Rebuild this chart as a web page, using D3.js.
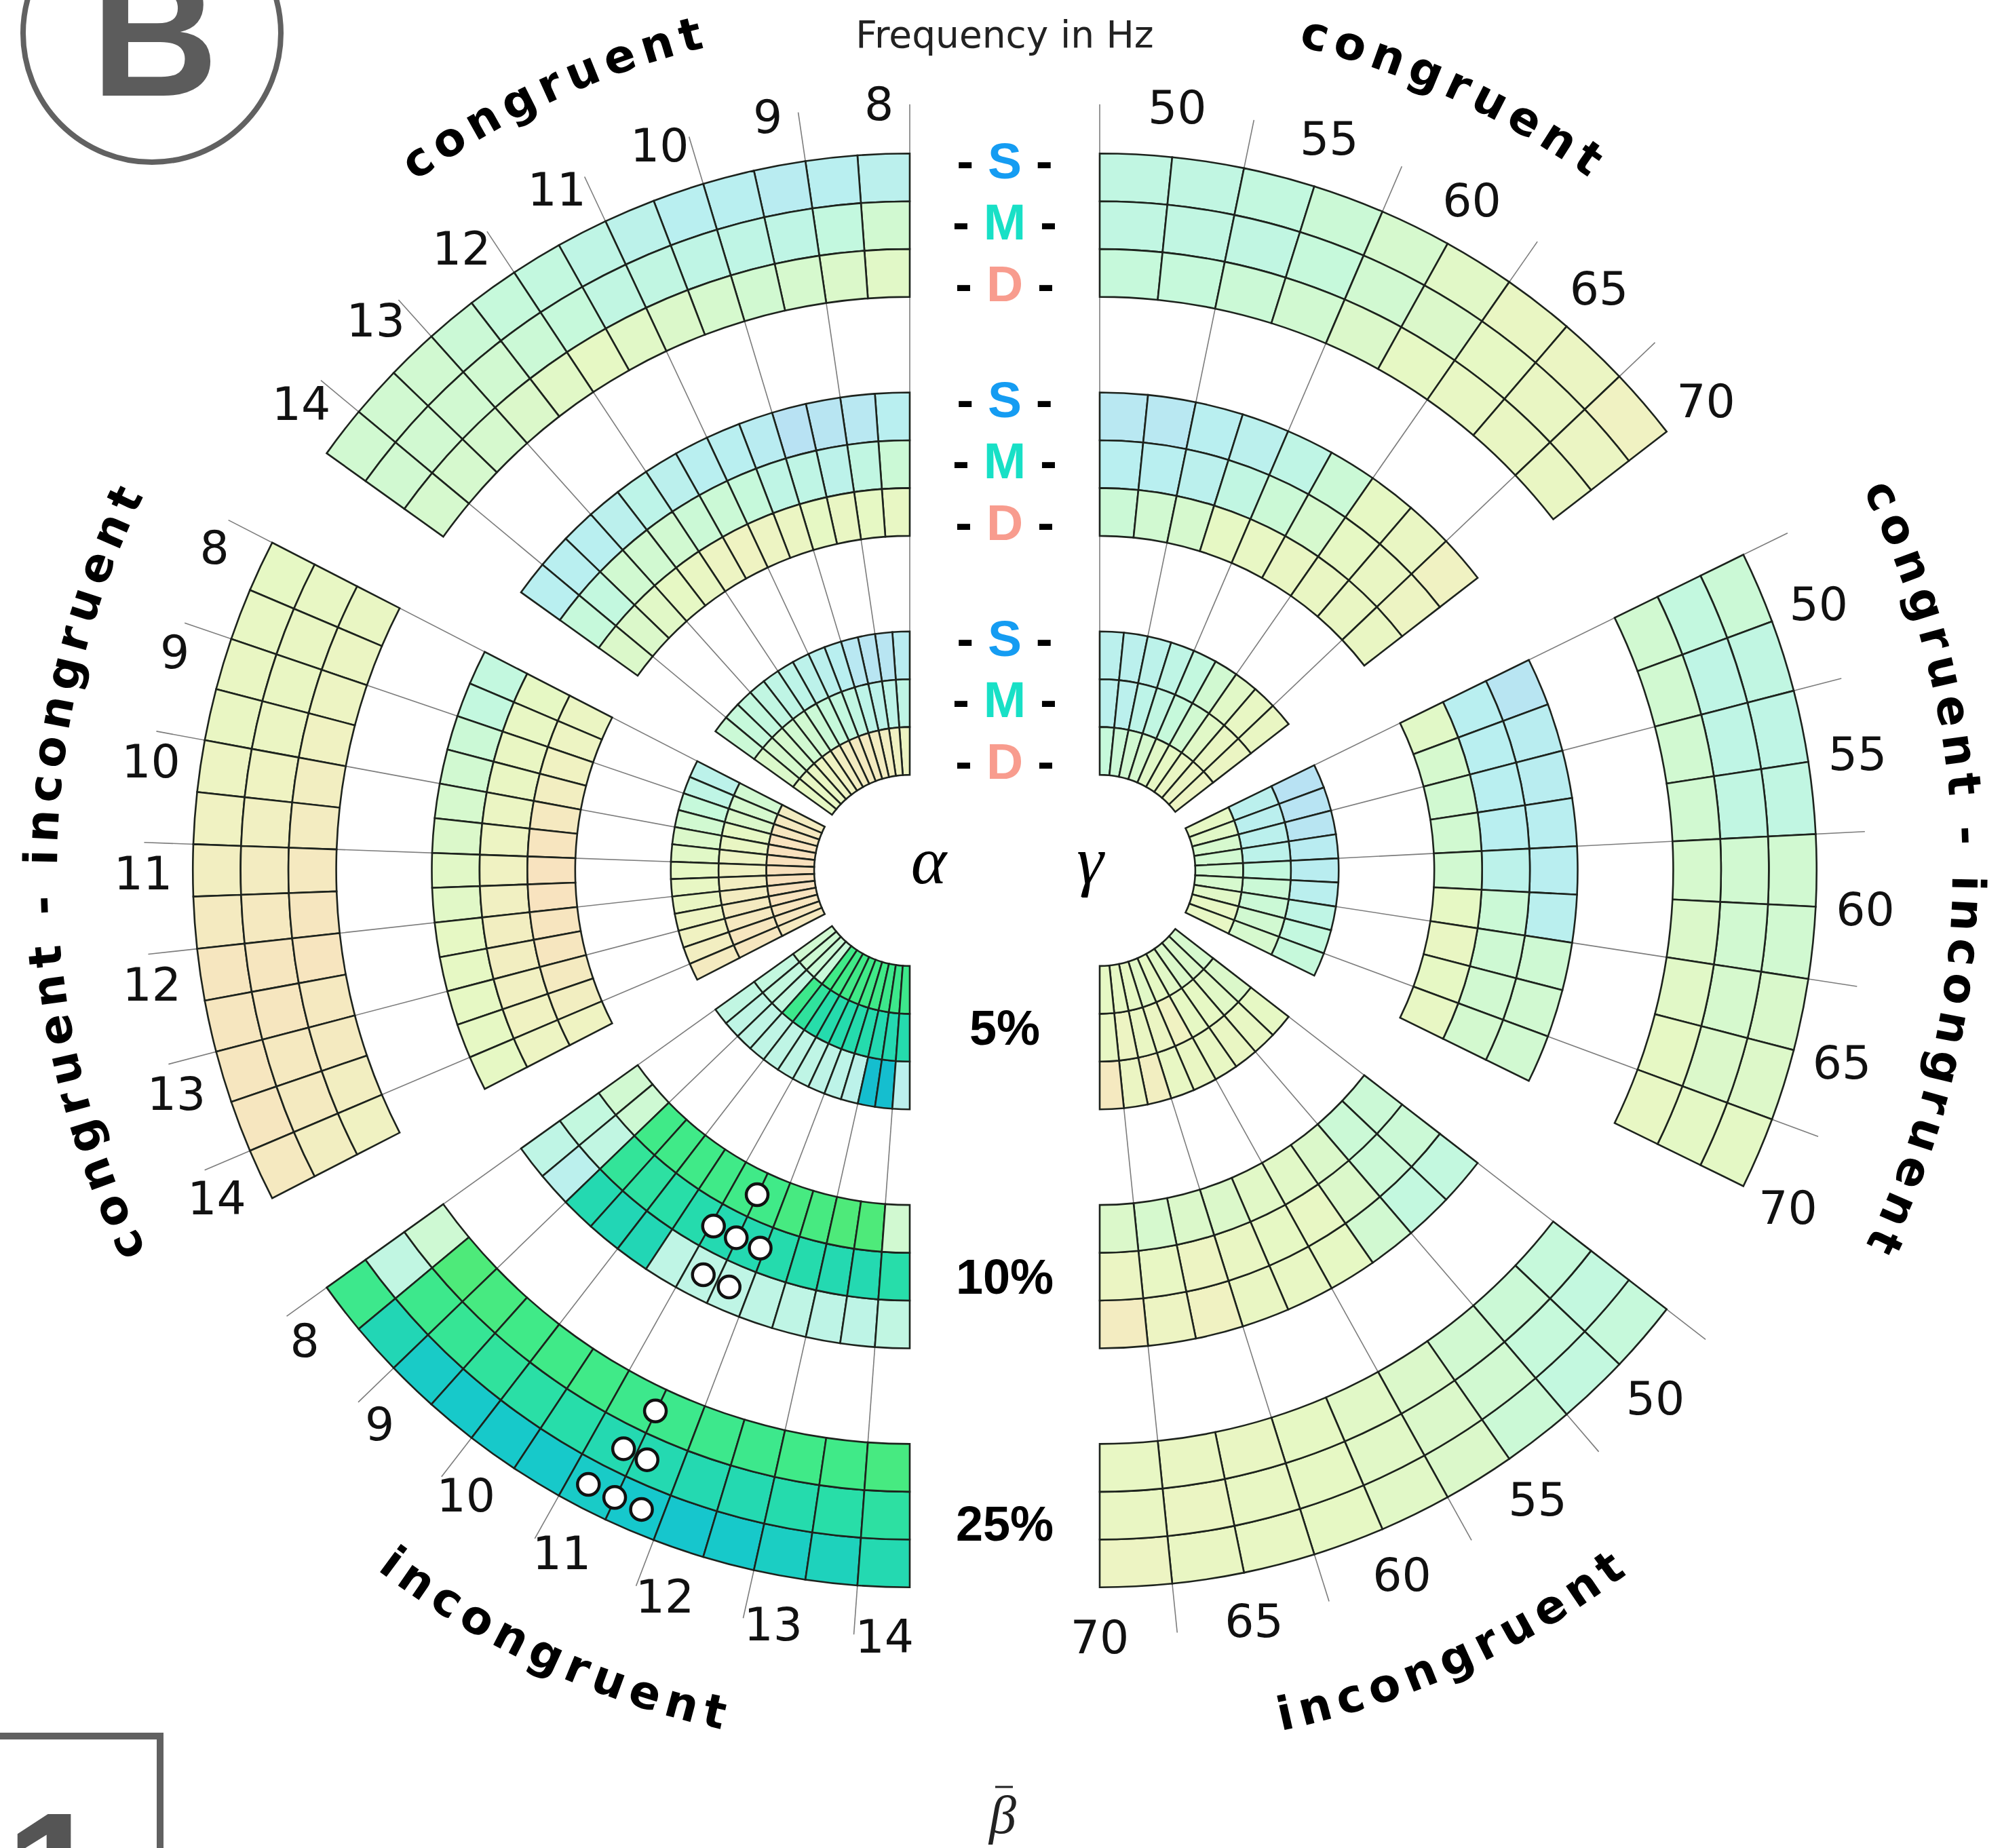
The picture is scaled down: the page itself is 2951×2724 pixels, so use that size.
<!DOCTYPE html>
<html>
<head>
<meta charset="utf-8">
<script src="https://cdn.jsdelivr.net/npm/d3@7"></script>
<style>
  html, body { margin: 0; padding: 0; background: #ffffff; }
  svg { display: block; }
</style>
</head>
<body>
<svg id="chart" width="2951" height="2724"></svg>
<script>
// ---------------------------------------------------------------------------
// Data
// ---------------------------------------------------------------------------
const conditions = ["congruent", "congruent - incongruent", "incongruent"];
const thresholds = ["5%", "10%", "25%"];
const measures   = ["S", "M", "D"];          // outer, middle, inner ring of each band
const measureColours = ["#159cf2", "#18e0c6", "#f89c8e"];

const alphaTicks = [8, 9, 10, 11, 12, 13, 14];
const gammaTicks = [50, 55, 60, 65, 70];
const alphaBinStart = 8,  alphaBinWidth = 0.5, alphaBinCount = 13;
const gammaBinStart = 50, gammaBinWidth = 2.5, gammaBinCount = 9;

// effect values per frequency bin, rows = S, M, D
const alphaCong5 = [
  [0.80, 0.90, 0.90, 0.85, 0.75, 0.70, 0.65, 0.60, 0.55, 0.50, 0.45, 0.40, 0.35],
  [0.55, 0.60, 0.65, 0.60, 0.50, 0.45, 0.40, 0.35, 0.30, 0.30, 0.25, 0.25, 0.20],
  [-0.10, -0.20, -0.30, -0.35, -0.40, -0.40, -0.35, -0.30, -0.20, -0.10, 0.00, 0.05, 0.10]
];
const alphaCong10 = [
  [0.75, 0.85, 0.90, 0.95, 0.80, 0.75, 0.75, 0.70, 0.60, 0.70, 0.75, 0.75, 0.75],
  [0.35, 0.50, 0.65, 0.55, 0.55, 0.40, 0.35, 0.35, 0.30, 0.30, 0.30, 0.45, 0.40],
  [0.05, 0.10, 0.00, 0.10, -0.05, -0.10, -0.15, -0.10, 0.00, 0.10, 0.15, 0.20, 0.20]
];
const alphaCong25 = [
  [0.70, 0.75, 0.80, 0.75, 0.75, 0.65, 0.55, 0.45, 0.40, 0.35, 0.30, 0.30, 0.30],
  [0.30, 0.45, 0.55, 0.55, 0.55, 0.50, 0.50, 0.40, 0.35, 0.30, 0.30, 0.30, 0.30],
  [0.15, 0.20, 0.25, 0.30, 0.25, 0.20, 0.15, 0.10, 0.15, 0.20, 0.25, 0.25, 0.25]
];
const alphaDiff5 = [
  [0.65, 0.55, 0.40, 0.30, 0.20, 0.15, 0.10, 0.05, 0.00, -0.10, -0.20, -0.30, -0.40],
  [0.30, 0.25, 0.20, 0.10, 0.00, -0.10, -0.20, -0.30, -0.35, -0.40, -0.45, -0.50, -0.50],
  [-0.35, -0.45, -0.50, -0.60, -0.65, -0.70, -0.75, -0.70, -0.65, -0.60, -0.55, -0.50, -0.45]
];
const alphaDiff10 = [
  [0.45, 0.45, 0.35, 0.30, 0.25, 0.20, 0.15, 0.15, 0.10, 0.10, 0.10, 0.10, 0.10],
  [0.10, 0.05, 0.00, 0.00, -0.05, -0.10, -0.20, -0.25, -0.30, -0.30, -0.25, -0.20, -0.10],
  [-0.05, -0.10, -0.20, -0.30, -0.45, -0.55, -0.60, -0.60, -0.55, -0.50, -0.40, -0.30, -0.15]
];
const alphaDiff25 = [
  [0.10, 0.05, 0.00, 0.00, -0.10, -0.20, -0.30, -0.40, -0.50, -0.50, -0.50, -0.50, -0.45],
  [0.05, 0.00, 0.00, -0.05, -0.15, -0.25, -0.35, -0.45, -0.50, -0.50, -0.45, -0.40, -0.30],
  [0.00, -0.05, -0.10, -0.20, -0.30, -0.35, -0.45, -0.50, -0.55, -0.45, -0.40, -0.30, -0.20]
];
const alphaIncong5 = [
  [0.50, 0.55, 0.55, 0.55, 0.55, 0.55, 0.55, 0.58, 0.60, 0.65, 0.80, 0.80, 0.70],
  [0.45, 0.45, 0.48, 0.42, 0.50, 0.56, 0.58, 0.58, 0.58, 0.58, 0.60, 0.60, 0.58],
  [0.30, 0.32, 0.35, 0.38, 0.40, 0.40, 0.40, 0.40, 0.40, 0.40, 0.42, 0.42, 0.42]
];
const alphaIncong10 = [
  [0.55, 0.70, 0.60, 0.62, 0.62, 0.55, 0.55, 0.55, 0.55, 0.55, 0.58, 0.58, 0.50],
  [0.45, 0.50, 0.48, 0.52, 0.55, 0.58, 0.60, 0.60, 0.58, 0.58, 0.60, 0.60, 0.56],
  [0.30, 0.32, 0.40, 0.40, 0.40, 0.40, 0.40, 0.40, 0.38, 0.38, 0.36, 0.36, 0.30]
];
const alphaIncong25 = [
  [0.42, 0.62, 0.72, 0.74, 0.74, 0.74, 0.72, 0.75, 0.76, 0.74, 0.70, 0.66, 0.60],
  [0.50, 0.42, 0.46, 0.50, 0.54, 0.56, 0.60, 0.60, 0.60, 0.60, 0.58, 0.55, 0.52],
  [0.32, 0.36, 0.38, 0.40, 0.40, 0.40, 0.42, 0.42, 0.42, 0.42, 0.40, 0.40, 0.38]
];
// significant bins (1) in the incongruent alpha bands
const alphaIncong5Sig = [
  [0, 0, 0, 0, 0, 0, 0, 0, 0, 0, 1, 1, 0],
  [0, 0, 0, 1, 1, 1, 1, 1, 1, 1, 1, 1, 1],
  [0, 0, 0, 0, 1, 1, 1, 1, 1, 1, 1, 1, 1]
];
const alphaIncong10Sig = [
  [0, 0, 1, 1, 1, 0, 0, 0, 0, 0, 0, 0, 0],
  [0, 0, 1, 1, 1, 1, 1, 1, 1, 1, 1, 1, 1],
  [0, 0, 1, 1, 1, 1, 1, 1, 1, 1, 1, 1, 0]
];
const alphaIncong25Sig = [
  [1, 1, 1, 1, 1, 1, 1, 1, 1, 1, 1, 1, 1],
  [0, 1, 1, 1, 1, 1, 1, 1, 1, 1, 1, 1, 1],
  [0, 1, 1, 1, 1, 1, 1, 1, 1, 1, 1, 1, 1]
];
// peak frequencies of single subjects (rows S, M, D)
const alphaIncong10Peaks = [[11.27, 11.70], [11.05, 11.48, 11.92], [11.49]];
const alphaIncong25Peaks = [[11.20, 11.49, 11.78], [11.355, 11.63], [11.49]];

const gammaCong5 = [
  [0.70, 0.70, 0.65, 0.55, 0.45, 0.30, 0.15, 0.05, 0.00],
  [0.70, 0.70, 0.60, 0.50, 0.40, 0.30, 0.15, 0.00, -0.05],
  [0.40, 0.35, 0.30, 0.25, 0.15, 0.10, 0.00, -0.05, -0.10]
];
const gammaCong10 = [
  [0.85, 0.85, 0.75, 0.70, 0.55, 0.35, 0.10, 0.00, -0.20],
  [0.75, 0.75, 0.70, 0.50, 0.35, 0.25, 0.10, 0.00, -0.10],
  [0.35, 0.30, 0.25, 0.10, 0.05, 0.00, 0.00, 0.00, 0.00]
];
const gammaCong25 = [
  [0.50, 0.50, 0.45, 0.35, 0.25, 0.15, 0.00, -0.05, -0.20],
  [0.50, 0.50, 0.50, 0.40, 0.30, 0.20, 0.10, 0.00, -0.05],
  [0.40, 0.40, 0.35, 0.30, 0.20, 0.10, 0.05, 0.00, 0.00]
];
const gammaDiff5 = [
  [0.95, 0.92, 0.90, 0.80, 0.78, 0.72, 0.55, 0.45, 0.40],
  [0.70, 0.72, 0.70, 0.65, 0.45, 0.35, 0.35, 0.30, 0.25],
  [0.10, 0.15, 0.25, 0.30, 0.30, 0.25, 0.15, 0.05, 0.05]
];
const gammaDiff10 = [
  [0.90, 0.78, 0.78, 0.76, 0.76, 0.72, 0.32, 0.30, 0.30],
  [0.75, 0.75, 0.75, 0.75, 0.65, 0.35, 0.32, 0.30, 0.28],
  [0.15, 0.25, 0.30, 0.30, 0.30, 0.10, 0.00, 0.10, 0.05]
];
const gammaDiff25 = [
  [0.35, 0.50, 0.55, 0.50, 0.30, 0.30, 0.22, 0.18, 0.12],
  [0.45, 0.55, 0.55, 0.50, 0.30, 0.30, 0.25, 0.20, 0.12],
  [0.30, 0.30, 0.30, 0.30, 0.25, 0.20, 0.15, 0.10, 0.05]
];
const gammaIncong5 = [
  [0.10, 0.05, 0.00, 0.05, 0.00, 0.05, -0.30, -0.05, -0.45],
  [0.20, 0.15, 0.10, 0.10, -0.20, -0.05, 0.00, -0.10, 0.05],
  [0.25, 0.20, 0.20, 0.15, 0.10, 0.15, 0.10, 0.10, 0.10]
];
const gammaIncong10 = [
  [0.45, 0.45, 0.30, 0.10, 0.05, 0.00, -0.20, -0.10, -0.35],
  [0.35, 0.35, 0.20, 0.05, 0.10, 0.00, -0.10, 0.05, -0.05],
  [0.35, 0.35, 0.20, 0.15, 0.15, 0.20, 0.20, 0.25, 0.20]
];
const gammaIncong25 = [
  [0.40, 0.45, 0.35, 0.20, 0.15, 0.10, 0.05, 0.00, -0.10],
  [0.45, 0.40, 0.30, 0.20, 0.15, 0.10, 0.05, -0.05, 0.00],
  [0.40, 0.35, 0.30, 0.20, 0.15, 0.10, 0.00, 0.00, 0.05]
];

// ---------------------------------------------------------------------------
// Layout
// ---------------------------------------------------------------------------
const svg = d3.select("#chart");
const deg = Math.PI / 180;
const cy = 1283;
const unit = 70.45;                                   // ring thickness
const ringR = d3.scaleLinear().domain([0, 15]).range([0, 15 * unit]);
const bandFirstRing = [2, 7, 12];                     // 5 %, 10 %, 25 % bands
const rayOuter = ringR(16.03);
const tickLabelR = 1130;

// diverging effect colour; non-significant bins are shown washed out
const effectColour = d3.scaleLinear()
  .domain([-1, -0.6, -0.2, 0.1, 0.3, 0.4, 0.55, 0.75, 0.95, 1])
  .range(["#e18214", "#e8a028", "#cdd434", "#ace83a", "#64ea64", "#40ea88",
          "#28dea8", "#16c8cc", "#129ed8", "#1296dc"])
  .clamp(true);
const cellFill = (v, significant) =>
  d3.interpolateRgb("#ffffff", effectColour(v))(significant ? 1 : 0.3);

const halves = [
  {
    name: "alpha", cx: 1341, dir: -1,
    binStart: alphaBinStart, binWidth: alphaBinWidth, binCount: alphaBinCount, gapBins: 2,
    ticks: alphaTicks, labelShift: 0.55,
    values: [[alphaCong5, alphaCong10, alphaCong25],
             [alphaDiff5, alphaDiff10, alphaDiff25],
             [alphaIncong5, alphaIncong10, alphaIncong25]],
    sig: [[null, null, null], [null, null, null],
          [alphaIncong5Sig, alphaIncong10Sig, alphaIncong25Sig]],
    peaks: [[null, null, null], [null, null, null],
            [null, alphaIncong10Peaks, alphaIncong25Peaks]]
  },
  {
    name: "gamma", cx: 1621, dir: 1,
    binStart: gammaBinStart, binWidth: gammaBinWidth, binCount: gammaBinCount, gapBins: 2,
    ticks: gammaTicks, labelShift: 1.0,
    values: [[gammaCong5, gammaCong10, gammaCong25],
             [gammaDiff5, gammaDiff10, gammaDiff25],
             [gammaIncong5, gammaIncong10, gammaIncong25]],
    sig: [[null, null, null], [null, null, null], [null, null, null]],
    peaks: [[null, null, null], [null, null, null], [null, null, null]]
  }
];

const arcGen = d3.arc();

halves.forEach(h => {
  const binAngle = Math.PI / (3 * h.binCount + 2 * h.gapBins);
  const span = h.binCount * binAngle;
  h.angle = conditions.map((c, k) => {
    const a0 = k * (h.binCount + h.gapBins) * binAngle;
    return d3.scaleLinear()
      .domain([h.binStart, h.binStart + h.binCount * h.binWidth])
      .range([a0, a0 + span]);
  });
  const pt = (th, r) => [h.dir * r * Math.sin(th), -r * Math.cos(th)];
  const g = svg.append("g").attr("transform", `translate(${h.cx},${cy})`);

  // radial frequency guides
  const rays = [];
  conditions.forEach((c, k) => h.ticks.forEach(f => rays.push({ th: h.angle[k](f) })));
  g.append("g").selectAll("line").data(rays).join("line")
    .attr("x1", d => pt(d.th, ringR(2))[0]).attr("y1", d => pt(d.th, ringR(2))[1])
    .attr("x2", d => pt(d.th, rayOuter)[0]).attr("y2", d => pt(d.th, rayOuter)[1])
    .attr("stroke", "#7c7c7c").attr("stroke-width", 1.6);

  // cells
  const cells = [];
  conditions.forEach((c, k) => thresholds.forEach((t, b) => measures.forEach((m, mi) => {
    const row = h.values[k][b][mi];
    const sigRow = h.sig[k][b] ? h.sig[k][b][mi] : null;
    const ring = bandFirstRing[b] + (2 - mi);
    row.forEach((v, i) => {
      const a0 = h.dir * h.angle[k](h.binStart + i * h.binWidth);
      const a1 = h.dir * h.angle[k](h.binStart + (i + 1) * h.binWidth);
      cells.push({
        innerRadius: ringR(ring), outerRadius: ringR(ring + 1),
        startAngle: Math.min(a0, a1), endAngle: Math.max(a0, a1),
        v, s: sigRow ? sigRow[i] : 0
      });
    });
  })));
  g.append("g").selectAll("path").data(cells).join("path")
    .attr("d", d => arcGen(d))
    .attr("fill", d => cellFill(d.v, d.s))
    .attr("stroke", "#1d231d").attr("stroke-width", 2.6);

  // single-subject peak markers
  const dots = [];
  conditions.forEach((c, k) => thresholds.forEach((t, b) => {
    const p = h.peaks[k][b];
    if (!p) return;
    p.forEach((freqs, mi) => freqs.forEach(f => {
      dots.push({ th: h.angle[k](f), r: ringR(bandFirstRing[b] + (2 - mi) + 0.5) });
    }));
  }));
  g.append("g").selectAll("circle").data(dots).join("circle")
    .attr("cx", d => pt(d.th, d.r)[0]).attr("cy", d => pt(d.th, d.r)[1])
    .attr("r", 16).attr("fill", "#ffffff").attr("stroke", "#111").attr("stroke-width", 4.5);

  // frequency tick labels
  const labels = [];
  conditions.forEach((c, k) => h.ticks.forEach(f =>
    labels.push({ f, th: h.angle[k](f) + h.labelShift * binAngle })));
  g.append("g").selectAll("text").data(labels).join("text")
    .attr("x", d => pt(d.th, tickLabelR)[0]).attr("y", d => pt(d.th, tickLabelR)[1])
    .attr("text-anchor", "middle").attr("dominant-baseline", "central")
    .attr("font-family", "DejaVu Sans").attr("font-size", 68).attr("fill", "#111")
    .text(d => d.f);
});

// condition names written along the outer rim
const defs = svg.append("defs");
const condCentre = [24.6, 90, 155.4];
const condRadius = [1250, 1257, 1296];
function rimPath(cx, dir, R, a, b) {
  const p = th => [cx + dir * R * Math.sin(th * deg), cy - R * Math.cos(th * deg)];
  const [x0, y0] = p(a), [x1, y1] = p(b);
  const sweep = dir * (b - a) > 0 ? 1 : 0;
  return `M${x0},${y0} A${R},${R} 0 0 ${sweep} ${x1},${y1}`;
}
halves.forEach(h => {
  conditions.forEach((c, k) => {
    const id = `rim-${h.name}-${k}`;
    const clockwise = k < 2;
    const a = condCentre[k] - (clockwise ? 40 : -40) * h.dir;
    const b = condCentre[k] + (clockwise ? 40 : -40) * h.dir;
    defs.append("path").attr("id", id).attr("d", rimPath(h.cx, h.dir, condRadius[k], a, b));
    svg.append("text")
      .attr("font-family", "DejaVu Sans").attr("font-weight", "bold")
      .attr("font-size", 68).attr("letter-spacing", 10).attr("fill", "#000")
      .append("textPath").attr("href", `#${id}`)
      .attr("startOffset", "50%").attr("text-anchor", "middle")
      .text(c);
  });
});

// centre column: ring measures and band thresholds
const midX = (halves[0].cx + halves[1].cx) / 2;
const measureOffset = [-95, -5, 86];
thresholds.forEach((t, b) => {
  const bandMid = ringR(bandFirstRing[b] + 1.5);
  measures.forEach((m, mi) => {
    const txt = svg.append("text")
      .attr("x", midX).attr("y", cy - bandMid + measureOffset[mi])
      .attr("text-anchor", "middle").attr("dominant-baseline", "central")
      .attr("font-family", "Liberation Sans").attr("font-weight", "bold")
      .attr("font-size", 75).attr("fill", "#000");
    txt.append("tspan").text("- ");
    txt.append("tspan").attr("fill", measureColours[mi]).text(m);
    txt.append("tspan").text(" -");
  });
});
const thresholdOffset = [-15, 0, 12];
thresholds.forEach((t, b) => {
  svg.append("text")
    .attr("x", midX).attr("y", cy + ringR(bandFirstRing[b] + 1.5) + thresholdOffset[b])
    .attr("text-anchor", "middle").attr("dominant-baseline", "central")
    .attr("font-family", "Liberation Sans").attr("font-weight", "bold")
    .attr("font-size", 72).attr("fill", "#000")
    .text(t);
});

// band symbols
svg.append("text").attr("x", 1369).attr("y", 1302).attr("text-anchor", "middle")
  .attr("font-family", "Liberation Serif").attr("font-style", "italic")
  .attr("font-size", 100).attr("fill", "#000").text("α");
svg.append("text").attr("x", 1607).attr("y", 1302).attr("text-anchor", "middle")
  .attr("font-family", "Liberation Serif").attr("font-style", "italic")
  .attr("font-size", 100).attr("fill", "#000").text("γ");
svg.append("text").attr("x", 1478).attr("y", 2702).attr("text-anchor", "middle")
  .attr("font-family", "Liberation Serif").attr("font-style", "italic")
  .attr("font-size", 80).attr("fill", "#222").text("β");
svg.append("line").attr("x1", 1467).attr("x2", 1493).attr("y1", 2634).attr("y2", 2634)
  .attr("stroke", "#222").attr("stroke-width", 3);

// title
svg.append("text").attr("x", midX).attr("y", 70).attr("text-anchor", "middle")
  .attr("font-family", "DejaVu Sans").attr("font-size", 55).attr("fill", "#222")
  .text("Frequency in Hz");

// panel letter
svg.append("circle").attr("cx", 224).attr("cy", 49).attr("r", 190)
  .attr("fill", "none").attr("stroke", "#616161").attr("stroke-width", 8);
svg.append("text").attr("x", 228).attr("y", 141).attr("text-anchor", "middle")
  .attr("font-family", "Liberation Sans").attr("font-weight", "bold")
  .attr("font-size", 260).attr("fill", "#5c5c5c").text("B");

// next panel marker
svg.append("rect").attr("x", -20).attr("y", 2559).attr("width", 256).attr("height", 300)
  .attr("fill", "none").attr("stroke", "#616161").attr("stroke-width", 10);
svg.append("text").attr("x", 8).attr("y", 2853)
  .attr("font-family", "Liberation Sans").attr("font-weight", "bold")
  .attr("font-size", 260).attr("fill", "#555").text("1");
</script>
</body>
</html>
